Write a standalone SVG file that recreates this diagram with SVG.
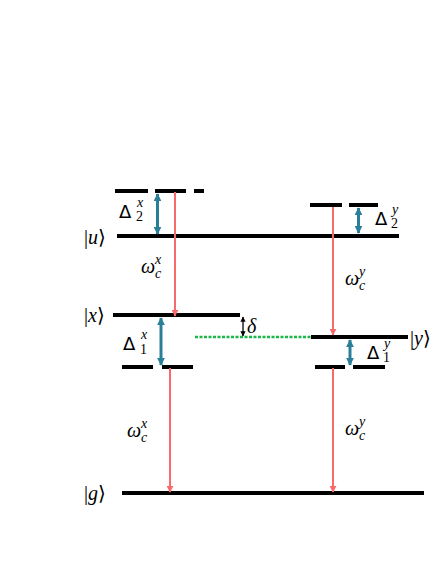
<svg xmlns="http://www.w3.org/2000/svg" width="436" height="564" viewBox="0 0 436 564">
<defs>
<style>
.lvl{stroke:#000;stroke-width:4;fill:none}
.red{stroke:#f86a6a;stroke-width:2;fill:none}
.blue{stroke:#2a7f98;stroke-width:3;fill:none}
.blk{stroke:#000;stroke-width:1.3;fill:none}
.grn{stroke:#1fb64a;stroke-width:2.5;stroke-dasharray:3 1.5;fill:none}
.t{font-family:"Liberation Serif","DejaVu Serif",serif;font-size:20px;fill:#000}
.i{font-style:italic}
.s{font-size:14px}
.b{font-family:"DejaVu Serif",serif;font-weight:200}
.d{font-family:"DejaVu Sans","Liberation Sans",sans-serif;font-size:18px}
</style>
<marker id="ar" viewBox="0 0 10 10" refX="9" refY="5" markerWidth="3.5" markerHeight="3.5" orient="auto"><path d="M0,0L10,5L0,10z" fill="#f86a6a"/></marker>
<marker id="ab" viewBox="0 0 10 10" refX="9" refY="5" markerWidth="2.6" markerHeight="2.6" orient="auto-start-reverse"><path d="M0,0L10,5L0,10z" fill="#2a7f98"/></marker>
<marker id="ak" viewBox="0 0 10 10" refX="9" refY="5" markerWidth="4" markerHeight="4" orient="auto-start-reverse"><path d="M0,0L10,5L0,10z" fill="#000"/></marker>
</defs>
<g id="level-u2x"><line class="lvl" x1="115" y1="191" x2="148" y2="191"/><line class="lvl" x1="155" y1="191" x2="186" y2="191"/><line class="lvl" x1="194" y1="191" x2="204" y2="191"/></g>
<g id="level-u2y"><line class="lvl" x1="310" y1="205" x2="342" y2="205"/><line class="lvl" x1="349" y1="205" x2="378" y2="205"/></g>
<g id="level-u"><line class="lvl" x1="117" y1="236" x2="399" y2="236"/><text class="t" x="84" y="244">|<tspan class="i">u</tspan><tspan class="b">⟩</tspan></text></g>
<g id="level-x"><line class="lvl" x1="113" y1="315" x2="240" y2="315"/><text class="t" x="84" y="322">|<tspan class="i">x</tspan><tspan class="b">⟩</tspan></text></g>
<g id="level-virtual"><line class="grn" x1="195" y1="337" x2="312" y2="337"/></g>
<g id="level-y"><line class="lvl" x1="311" y1="337" x2="408" y2="337"/><text class="t" x="410" y="345">|<tspan class="i">y</tspan><tspan class="b">⟩</tspan></text></g>
<g id="level-1x"><line class="lvl" x1="122" y1="367" x2="153" y2="367"/><line class="lvl" x1="162" y1="367" x2="193" y2="367"/></g>
<g id="level-1y"><line class="lvl" x1="315" y1="367" x2="345" y2="367"/><line class="lvl" x1="353" y1="367" x2="385" y2="367"/></g>
<g id="level-g"><line class="lvl" x1="122" y1="493" x2="424" y2="493"/><text class="t" x="84" y="500">|<tspan class="i">g</tspan><tspan class="b">⟩</tspan></text></g>
<g id="connectors">
<line class="red" x1="175" y1="192" x2="175" y2="316" marker-end="url(#ar)"/>
<line class="red" x1="333" y1="207" x2="333" y2="335" marker-end="url(#ar)"/>
<line class="red" x1="170" y1="368" x2="170" y2="492" marker-end="url(#ar)"/>
<line class="red" x1="333" y1="368" x2="333" y2="492" marker-end="url(#ar)"/>
<line class="blue" x1="157.5" y1="194" x2="157.5" y2="234" marker-start="url(#ab)" marker-end="url(#ab)"/>
<line class="blue" x1="358.5" y1="208" x2="358.5" y2="233" marker-start="url(#ab)" marker-end="url(#ab)"/>
<line class="blue" x1="161" y1="318" x2="161" y2="365" marker-start="url(#ab)" marker-end="url(#ab)"/>
<line class="blue" x1="350" y1="340" x2="350" y2="365" marker-start="url(#ab)" marker-end="url(#ab)"/>
<line class="blk" x1="243" y1="317" x2="243" y2="336" marker-start="url(#ak)" marker-end="url(#ak)"/>
</g>
<g id="labels">
<text class="d" x="119" y="218">Δ</text><text class="t i s" x="137" y="207">x</text><text class="t s" x="136" y="221">2</text>
<text class="d" x="375" y="225">Δ</text><text class="t i s" x="392" y="214">y</text><text class="t s" x="391" y="228">2</text>
<text class="d" x="123" y="350">Δ</text><text class="t i s" x="141" y="339">x</text><text class="t s" x="140" y="354">1</text>
<text class="d" x="367" y="359">Δ</text><text class="t i s" x="384" y="348">y</text><text class="t s" x="383" y="362">1</text>
<text class="t i" x="141" y="273">ω</text><text class="t i s" x="155" y="264">x</text><text class="t i s" x="155" y="278">c</text>
<text class="t i" x="345" y="285">ω</text><text class="t i s" x="359" y="276">y</text><text class="t i s" x="359" y="290">c</text>
<text class="t i" x="127" y="437">ω</text><text class="t i s" x="141" y="428">x</text><text class="t i s" x="141" y="442">c</text>
<text class="t i" x="345" y="435">ω</text><text class="t i s" x="359" y="426">y</text><text class="t i s" x="359" y="440">c</text>
<text class="t i" x="247" y="333">δ</text>
</g>
</svg>
